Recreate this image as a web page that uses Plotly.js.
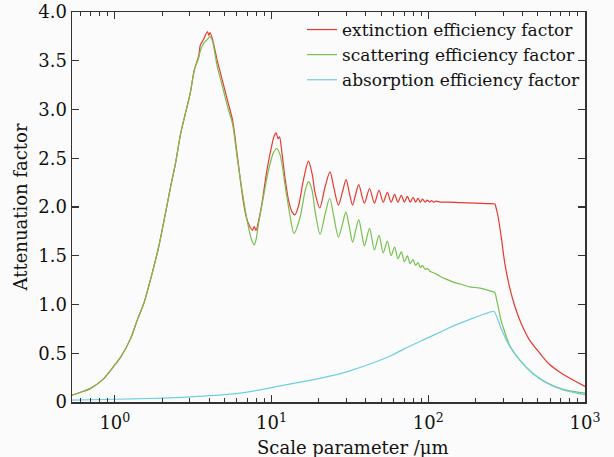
<!DOCTYPE html>
<html>
<head>
<meta charset="utf-8">
<script src="https://cdn.plot.ly/plotly-3.0.1.min.js"></script>
<style>html,body{margin:0;padding:0;background:#fbfbfb;}</style>
</head>
<body>
<div id="chart" style="width:614px;height:457px;"></div>
<script>
// Extinction efficiency factor (red)
const extX = [0.533,0.605,0.70,0.85,1.01,1.09,1.26,1.39,1.53,1.73,1.91,2.10,2.27,2.44,2.62,2.82,3.03,3.22,3.43,3.51,3.69,3.80,3.90,3.98,4.05,4.20,4.49,4.71,5.07,5.30,5.64,6.02,6.32,6.63,6.97,7.32,7.55,7.75,7.95,8.30,8.69,9.35,10.06,10.40,10.70,11.00,11.24,11.64,12.23,12.83,13.50,14.10,14.86,15.99,17.2,18.2,18.98,20.3,21.98,23.6,25.1,26.7,28.3,29.9,31.4,32.9,34.4,36.0,39.1,42.2,45.3,48.5,51.6,54.8,57.9,61,64,67.3,70.4,73.5,76.7,80,83,86,89,92,95.5,98.5,102,105,108,112,120,135,160,200,235,266,270,279,294,308,331,357,393,441,515,590,700,850,1000];
const extY = [0.07,0.10,0.14,0.24,0.39,0.46,0.65,0.84,1.01,1.32,1.60,1.93,2.21,2.45,2.74,2.96,3.17,3.41,3.55,3.66,3.72,3.77,3.80,3.76,3.79,3.72,3.51,3.38,3.18,3.06,2.89,2.55,2.28,2.04,1.87,1.79,1.76,1.80,1.76,1.87,2.04,2.38,2.64,2.73,2.76,2.70,2.72,2.56,2.28,2.07,1.95,1.92,2.01,2.28,2.47,2.33,2.14,1.99,2.21,2.36,2.18,2.02,2.15,2.28,2.14,2.02,2.13,2.23,2.04,2.19,2.04,2.17,2.05,2.15,2.05,2.13,2.05,2.12,2.05,2.11,2.05,2.10,2.05,2.09,2.05,2.08,2.05,2.07,2.05,2.065,2.05,2.06,2.05,2.05,2.045,2.04,2.035,2.03,2.00,1.90,1.66,1.42,1.17,0.98,0.80,0.64,0.50,0.39,0.30,0.22,0.16];

// Scattering efficiency factor (green)
const scaX = [0.533,0.605,0.70,0.85,1.01,1.09,1.26,1.39,1.53,1.73,1.91,2.10,2.27,2.44,2.62,2.82,3.03,3.22,3.43,3.51,3.69,3.90,4.05,4.20,4.49,4.71,5.07,5.30,5.64,6.02,6.48,6.97,7.32,7.55,7.75,7.95,8.26,8.89,9.57,10.30,10.8,11.36,12.23,13.15,13.9,15.24,16.40,17.2,18.08,18.98,20.4,21.98,23.5,25.1,26.7,28.3,29.8,31.4,32.9,34.4,36.0,37.6,39.1,42.2,45.3,48.5,51.6,54.8,57.9,61,64,67.3,70.4,73.5,76.7,80,83,86,89,92,95.5,98.5,102.5,110,118.8,130,144.3,160,184.4,210,235.5,266,272,279,290,300,331,384,467,568,724,1000];
const scaY = [0.07,0.10,0.14,0.24,0.39,0.46,0.65,0.84,1.01,1.32,1.60,1.93,2.21,2.45,2.74,2.96,3.17,3.41,3.53,3.60,3.68,3.72,3.75,3.70,3.45,3.32,3.12,3.00,2.85,2.52,2.17,1.87,1.71,1.64,1.61,1.66,1.83,2.11,2.38,2.56,2.60,2.53,2.21,1.90,1.73,1.90,2.17,2.26,2.18,1.95,1.72,1.93,2.09,1.88,1.69,1.82,1.95,1.79,1.64,1.76,1.87,1.73,1.60,1.78,1.56,1.71,1.53,1.65,1.50,1.59,1.47,1.54,1.44,1.50,1.42,1.46,1.40,1.43,1.38,1.40,1.36,1.37,1.34,1.32,1.29,1.26,1.23,1.21,1.18,1.17,1.15,1.12,1.06,0.98,0.85,0.77,0.58,0.43,0.29,0.20,0.13,0.09];

// Absorption efficiency factor (cyan)
const absX = [0.533,1.0,1.69,3.03,5.46,8.47,10.5,18.6,26,33,42.5,58.6,69.3,100,140,186,230,262,266,273,294,331,384,467,568,724,1000];
const absY = [0.02,0.028,0.036,0.052,0.08,0.125,0.155,0.23,0.28,0.33,0.39,0.48,0.54,0.66,0.77,0.85,0.905,0.93,0.915,0.88,0.74,0.57,0.43,0.29,0.195,0.125,0.075];

const seriesNames = ['extinction efficiency factor','scattering efficiency factor','absorption efficiency factor'];
const seriesColors = ['#e8392f','#77c04e','#6fcfe0'];

const xTickVals = [1,10,100,1000];
const xTickText = ['10<sup>0</sup>','10<sup>1</sup>','10<sup>2</sup>','10<sup>3</sup>'];
const yTickVals = [0,0.5,1,1.5,2,2.5,3,3.5,4];
const yTickText = ['0','0.5','1.0','1.5','2.0','2.5','3.0','3.5','4.0'];

const minorVals = [];
for (let e = -1; e < 3; e++) {
  for (let d = 2; d <= 9; d++) minorVals.push(d * Math.pow(10, e));
}

const font = 'DejaVu Serif, Liberation Serif, serif';
const data = [
  {x: extX, y: extY, name: seriesNames[0]},
  {x: scaX, y: scaY, name: seriesNames[1]},
  {x: absX, y: absY, name: seriesNames[2]}
].map((t, i) => Object.assign(t, {type: 'scatter', mode: 'lines', line: {color: seriesColors[i], width: 1.2, shape: 'spline', smoothing: 0.8}}));

const layout = {
  width: 614, height: 457,
  margin: {l: 72, r: 29, t: 12, b: 55},
  paper_bgcolor: '#fbfbfb', plot_bgcolor: '#fbfbfb',
  font: {family: font, size: 18, color: '#111'},
  showlegend: true,
  legend: {x: 1, xanchor: 'right', y: 1, yanchor: 'top', bgcolor: 'rgba(0,0,0,0)', font: {family: font, size: 17, color: '#111'}, itemwidth: 30, tracegroupgap: 0},
  xaxis: {
    type: 'log', range: [Math.log10(0.533), 3],
    tickmode: 'array', tickvals: xTickVals, ticktext: xTickText,
    ticks: 'inside', ticklen: 7, tickwidth: 1.2, tickcolor: '#333',
    showline: true, linecolor: '#333', linewidth: 1.5, mirror: 'ticks',
    showgrid: false, zeroline: false, ticklabelstandoff: 4,
    tickfont: {family: font, size: 18, color: '#111'},
    minor: {tickmode: 'array', tickvals: minorVals, ticks: 'inside', ticklen: 4, tickwidth: 1, tickcolor: '#333', showgrid: false}
  },
  yaxis: {
    range: [0, 4],
    tickmode: 'array', tickvals: yTickVals, ticktext: yTickText,
    ticks: 'inside', ticklen: 7, tickwidth: 1.2, tickcolor: '#333',
    showline: true, linecolor: '#333', linewidth: 1.5, mirror: 'ticks',
    showgrid: false, zeroline: false,
    tickfont: {family: font, size: 18, color: '#111'},
    title: {text: 'Attenuation factor', font: {family: font, size: 18, color: '#111'}, standoff: 6}
  },
  annotations: [{
    text: 'Scale parameter /μm', xref: 'paper', yref: 'paper', x: 0.548, y: -0.117,
    xanchor: 'center', yanchor: 'middle', showarrow: false,
    font: {family: font, size: 18, color: '#111'}
  }]
};

Plotly.newPlot('chart', data, layout, {displayModeBar: false, staticPlot: true});
</script>
</body>
</html>
